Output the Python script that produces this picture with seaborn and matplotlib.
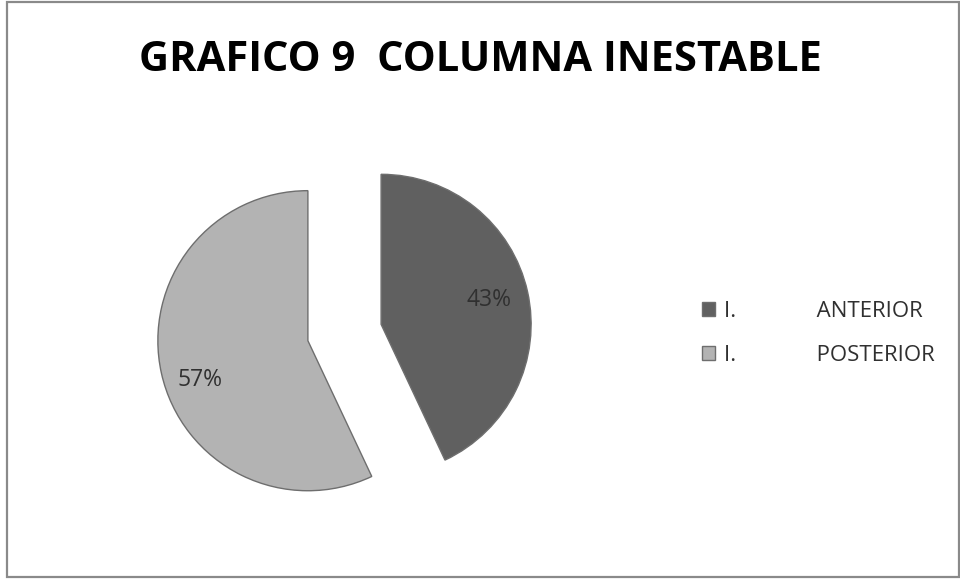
import matplotlib
matplotlib.use("Agg")
import matplotlib.pyplot as plt
from matplotlib.patches import Rectangle
import seaborn as sns

# Chart data
categories = ["I.              ANTERIOR", "I.              POSTERIOR"]
shares = [43, 57]
slice_colors = ["#606060", "#b3b3b3"]
title_text = "GRAFICO 9  COLUMNA INESTABLE"

sns.set_theme(style="white")
plt.rcParams["font.family"] = ["Open Sans", "DejaVu Sans"]

fig = plt.figure(figsize=(9.6, 5.79), dpi=100)
fig.patch.set_facecolor("white")

# outer chart frame
fig.add_artist(Rectangle((7 / 960, 2 / 579), 952 / 960, 575 / 579,
                         transform=fig.transFigure, fill=False,
                         edgecolor="#8a8a8a", linewidth=1.6))

ax = fig.add_axes([0.1505, 0.0803, 0.4167, 0.6908])
wedges, texts, autotexts = ax.pie(
    shares,
    colors=slice_colors,
    startangle=90,
    counterclock=False,
    explode=[0.25, 0.25],
    autopct="%1.0f%%",
    pctdistance=0.74,
    wedgeprops=dict(edgecolor="#6e6e6e", linewidth=1.0),
    textprops=dict(fontsize=16.5, color="#303030"),
)
# lower the posterior percentage a little within its slice
px, py = autotexts[1].get_position()
autotexts[1].set_position((px, py - 0.1))

ax.set_xlim(-1.333, 1.333)
ax.set_ylim(-1.333, 1.333)
ax.set_aspect("equal")
ax.axis("off")

fig.text(0.5, 0.895, title_text, ha="center", va="center",
         fontsize=30, fontweight="bold", color="black",
         family=["Liberation Sans Narrow", "Open Sans", "DejaVu Sans"])

leg = fig.legend(wedges, categories, loc="center left",
                 bbox_to_anchor=(0.71, 0.424), frameon=False,
                 fontsize=16, handlelength=0.6, handleheight=0.6,
                 handletextpad=0.4, labelspacing=1.05)
for t in leg.get_texts():
    t.set_color("#303030")

fig.savefig("out.png", dpi=100, facecolor="white")
